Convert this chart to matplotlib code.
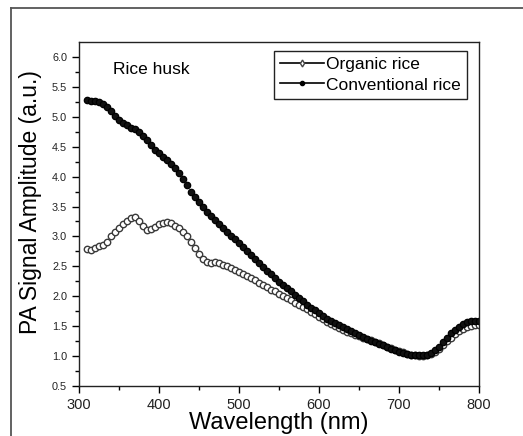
import matplotlib
matplotlib.use("Agg")
import matplotlib.pyplot as plt
from matplotlib.lines import Line2D
import numpy as np

plt.rcParams['font.family'] = ['Liberation Sans', 'DejaVu Sans']

wavelength = list(range(310, 805, 5))

conventional = [5.28, 5.27, 5.26, 5.25, 5.22, 5.17, 5.09, 5.01, 4.95, 4.90,
                4.86, 4.82, 4.79, 4.75, 4.68, 4.61, 4.53, 4.45, 4.39, 4.33,
                4.27, 4.21, 4.14, 4.06, 3.96, 3.86, 3.75, 3.66, 3.57, 3.49,
                3.41, 3.34, 3.27, 3.21, 3.14, 3.08, 3.01, 2.95, 2.89, 2.82,
                2.76, 2.69, 2.62, 2.55, 2.49, 2.43, 2.37, 2.30, 2.24, 2.18,
                2.13, 2.08, 2.02, 1.97, 1.92, 1.86, 1.81, 1.77, 1.72, 1.67,
                1.62, 1.58, 1.55, 1.52, 1.48, 1.45, 1.42, 1.38, 1.35, 1.32,
                1.29, 1.26, 1.24, 1.21, 1.18, 1.15, 1.12, 1.10, 1.07, 1.05,
                1.03, 1.02, 1.01, 1.01, 1.01, 1.02, 1.05, 1.10, 1.16, 1.23,
                1.30, 1.38, 1.44, 1.49, 1.53, 1.57, 1.59, 1.59, 1.58]

organic = [2.79, 2.78, 2.81, 2.84, 2.86, 2.90, 3.00, 3.08, 3.14, 3.20,
           3.25, 3.30, 3.32, 3.25, 3.17, 3.10, 3.12, 3.16, 3.20, 3.23,
           3.24, 3.22, 3.18, 3.14, 3.08, 3.00, 2.91, 2.80, 2.70, 2.63,
           2.58, 2.56, 2.57, 2.56, 2.53, 2.51, 2.48, 2.44, 2.41, 2.37,
           2.34, 2.30, 2.27, 2.23, 2.19, 2.15, 2.11, 2.08, 2.04, 2.00,
           1.97, 1.93, 1.89, 1.85, 1.82, 1.78, 1.74, 1.70, 1.66, 1.62,
           1.57, 1.53, 1.50, 1.47, 1.44, 1.41, 1.38, 1.36, 1.34, 1.31,
           1.29, 1.27, 1.24, 1.22, 1.19, 1.16, 1.14, 1.11, 1.09, 1.06,
           1.04, 1.02, 1.01, 1.00, 1.00, 1.01, 1.03, 1.07, 1.12, 1.18,
           1.25, 1.31, 1.37, 1.42, 1.46, 1.49, 1.51, 1.52, 1.52]

xticks = [300, 400, 500, 600, 700, 800]
yticks = [0.5, 1.0, 1.5, 2.0, 2.5, 3.0, 3.5, 4.0, 4.5, 5.0, 5.5, 6.0]

W, H = 523, 436
fig = plt.figure(figsize=(W / 100, H / 100), dpi=100)
ax = fig.add_axes([79 / W, 1 - 386 / H, 400 / W, 344 / H])

# outer frame
fig.add_artist(Line2D([11 / W, 11 / W], [0, 1 - 8 / H], transform=fig.transFigure,
                      color='#555555', lw=1.3))
fig.add_artist(Line2D([11 / W, 1], [1 - 8 / H, 1 - 8 / H], transform=fig.transFigure,
                      color='#555555', lw=1.3))

ax.plot(wavelength, organic, ls='none', marker='o', ms=4.6, mfc='white',
        mec='#3a3a3a', mew=1.0)
ax.plot(wavelength, conventional, ls='none', marker='o', ms=4.6, mfc='#111111',
        mec='#000000', mew=0.9)

ax.set_xlim(300, 800)
ax.set_ylim(0.5, 6.25)
ax.set_xticks(xticks)
ax.set_yticks(yticks)
ax.set_xticks([350, 450, 550, 650, 750], minor=True)
ax.set_yticks(np.arange(0.75, 6.0, 0.5), minor=True)
ax.set_yticklabels([f"{v:.1f}" for v in yticks])
ax.tick_params(axis='x', which='major', direction='out', length=5, width=1,
               labelsize=10.5, labelcolor='#222222', top=False)
ax.tick_params(axis='y', which='major', direction='out', length=5, width=1,
               labelsize=7.8, labelcolor='#222222', right=False)
ax.tick_params(which='minor', direction='out', length=3, width=1, top=False, right=False)
for s in ax.spines.values():
    s.set_linewidth(1.0)
    s.set_color('#222222')

ax.set_xlabel('Wavelength (nm)', fontsize=17, labelpad=0)
ax.set_ylabel('PA Signal Amplitude (a.u.)', fontsize=16.5)
ax.yaxis.set_label_coords(-0.093, 0.535)

ax.text(0.086, 0.92, 'Rice husk', transform=ax.transAxes, fontsize=12.5,
        ha='left', va='center')

h1 = Line2D([], [], color='black', lw=1.2, marker='d', ms=3.5, mfc='white', mec='#444444')
h2 = Line2D([], [], color='black', lw=1.2, marker='o', ms=3, mfc='black', mec='black')
leg = ax.legend([h1, h2], ['Organic rice', 'Conventional rice'],
                loc='upper right', bbox_to_anchor=(0.97, 0.974), fontsize=12.5,
                frameon=True, fancybox=False, edgecolor='#222222', framealpha=1,
                handlelength=2.5, handletextpad=0.15, labelspacing=0.3,
                borderpad=0.35, borderaxespad=0, numpoints=1)
leg.get_frame().set_linewidth(1.0)

fig.savefig('out.png', dpi=100)
